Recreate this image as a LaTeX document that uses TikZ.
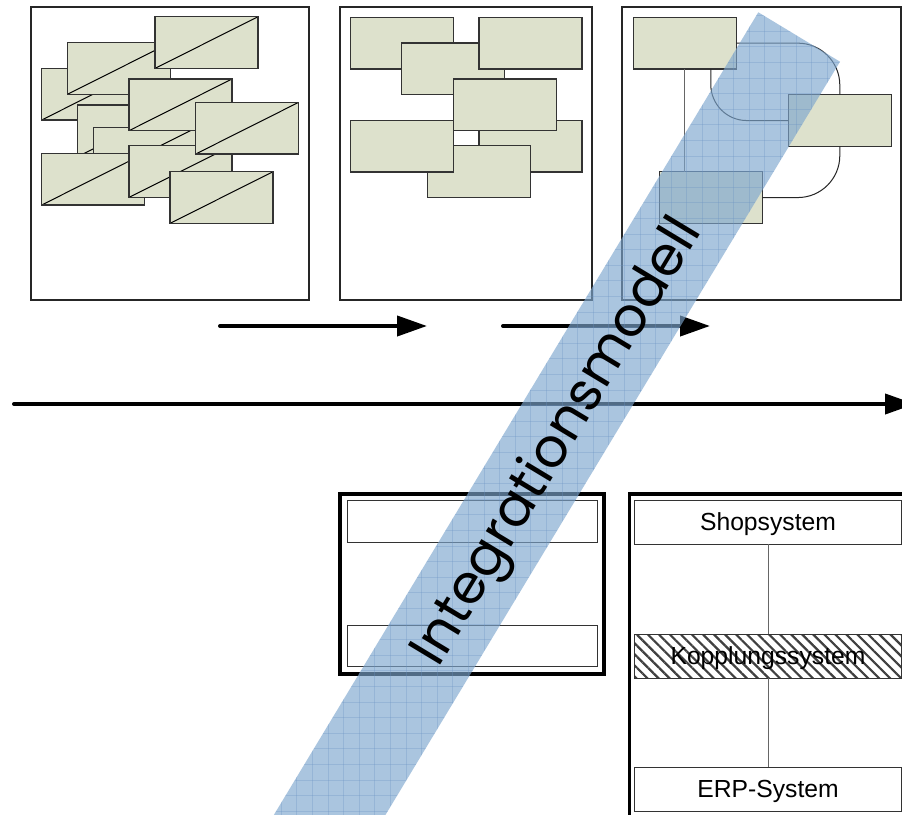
\documentclass[tikz,border=0pt]{standalone}
\usepackage{fontspec}
\setmainfont{Liberation Sans}
\newfontfamily\bandfont{Poppins}
\usetikzlibrary{arrows.meta,patterns.meta,calc}
\definecolor{cardfill}{RGB}{221,225,204}
\definecolor{bandblue}{RGB}{125,166,206}
\definecolor{gridblue}{RGB}{105,145,195}
\tikzset{
 panel/.style={draw=black!85,line width=1.2pt},
 card/.style={draw=black!80,line width=1.1pt,fill=cardfill,minimum width=103pt,minimum height=51.7pt,inner sep=0pt,outer sep=0pt,anchor=north west},
 diagcard/.style={card,path picture={\draw[black,line width=1pt] (path picture bounding box.south west) -- (path picture bounding box.north east);}},
 link/.style={draw=black!85,line width=1pt,rounded corners=38pt},
 graylink/.style={draw=black!60,line width=1.2pt},
 bigarrow/.style={line width=4pt,line cap=round,-{Triangle[length=30pt,width=20pt]}},
 frame/.style={draw=black,line width=3.5pt},
 slot/.style={draw=black!80,line width=1pt,fill=white,anchor=north west,inner sep=0pt,outer sep=0pt,minimum width=250pt},
 sysbox/.style={draw=black!80,line width=1pt,fill=white,anchor=north west,inner sep=0pt,outer sep=0pt,minimum width=267.4pt,minimum height=44pt,text depth=2pt,font=\fontsize{24.7}{28}\selectfont},
 bandgrid/.style={gridblue,opacity=0.3,line width=0.9pt},
}
\begin{document}
\begin{tikzpicture}[x=1pt,y=-1pt]
\useasboundingbox (0,0) rectangle (902,814);
\clip (0,0) rectangle (902,814);
\fill[white] (0,0) rectangle (902,814);
% panels
\draw[panel] (31,7) rectangle (309,300);
\draw[panel] (340,7) rectangle (592,300);
\draw[panel] (622,7) rectangle (901,300);
% panel 1 cards
\node[diagcard] (a) at (41.7,68.3) {};
\node[diagcard] (b) at (67.3,42.7) {};
\node[diagcard] (c) at (155,16.7) {};
\node[diagcard] (e) at (77.7,105) {};
\node[diagcard] (f) at (93.3,127.7) {};
\node[diagcard] (d) at (129,79) {};
\node[diagcard] (h) at (41.7,153.3) {};
\node[diagcard] (i) at (129,145.7) {};
\node[diagcard] (g) at (195.7,102.3) {};
\node[diagcard] (j) at (170,171.7) {};
% panel 2 cards
\node[card] (p) at (350.3,17.3) {};
\node[card] (q) at (401.7,43) {};
\node[card] (r) at (479,17.3) {};
\node[card] (u) at (479,120.3) {};
\node[card] (s) at (453.3,79) {};
\node[card] (v) at (427.3,145.7) {};
\node[card] (t) at (350.3,120.3) {};
% panel 3
\node[card] (A) at (633.3,17.3) {};
\node[card] (B) at (788.3,94.7) {};
\node[card] (C) at (659.3,171.7) {};
\draw[graylink] (A.south) -- (A.south |- C.north);
\draw[link,rounded corners=36pt] ($(A.south)+(26,0)$) |- (B.west);
\draw[link,rounded corners=42pt] (A.east) -| (B.north);
\draw[link,rounded corners=42pt] (B.south) |- (C.east);
% arrows
\coordinate (a1s) at (220,326); \coordinate (a1e) at (427,326);
\coordinate (a2s) at (503,326); \coordinate (a2e) at (710,326);
\coordinate (a3s) at (14,404); \coordinate (a3e) at (915,404);
\draw[bigarrow] (a1s) -- (a1e);
\draw[bigarrow] (a2s) -- (a2e);
\draw[bigarrow] (a3s) -- (a3e);
% bottom left box
\draw[frame] (340,494) rectangle (604,674);
\node[slot,minimum height=41.6pt] (L1) at (347.3,500.7) {};
\node[slot,minimum height=41pt] (L2) at (347.3,625.7) {};
% bottom right box
\draw[frame] (629.5,494) rectangle (920,830);
\node[sysbox,minimum height=43.6pt] (shop) at (634.3,500.7) {Shopsystem};
\node[sysbox,pattern={Lines[angle=-45,distance=7.8pt,line width=2.2pt]},pattern color=black!75] (kopp) at (634.3,634.3) {Kopplungssystem};
\node[sysbox,minimum height=44.4pt] (erp) at (634.3,767.3) {ERP-System};
\draw[graylink,line width=1pt] (shop) -- (kopp);
\draw[graylink,line width=1pt] (kopp) -- (erp);
% band
\coordinate (b1) at (758.3,12.3);
\coordinate (b2) at (840,61.7);
\coordinate (b3) at (382.4,820);
\coordinate (b4) at (270.8,820);
\fill[bandblue,opacity=0.65] (b1) -- (b2) -- (b3) -- (b4) -- cycle;
\begin{scope}
\clip (b1) -- (b2) -- (b3) -- (b4) -- cycle;
\foreach \gx in {250,265.6,...,860} \draw[bandgrid] (\gx,0) -- (\gx,830);
\foreach \gy in {0,15.6,...,830} \draw[bandgrid] (250,\gy) -- (860,\gy);
\end{scope}
\node[rotate=58.9,font=\bandfont\fontsize{54}{60}\selectfont,inner sep=0pt] (bandtext) at (559,443) {Integrationsmodell};
\end{tikzpicture}
\end{document}
